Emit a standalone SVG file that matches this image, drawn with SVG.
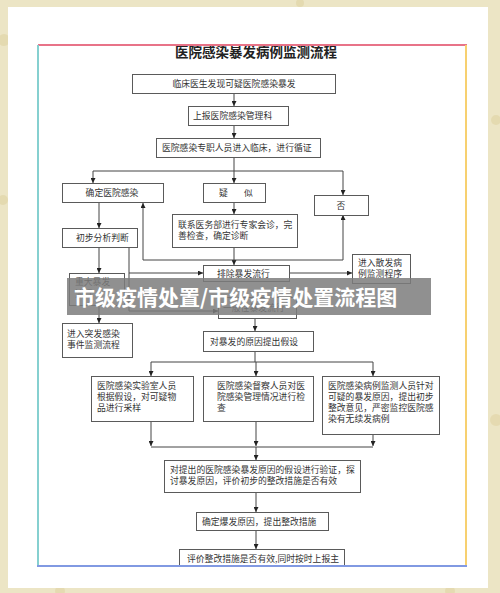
<svg xmlns="http://www.w3.org/2000/svg" width="500" height="593" viewBox="0 0 500 593">
<style>
.box{fill:#fff;stroke:#5a5a5a;stroke-width:1}
.t{font-family:"Noto Sans CJK SC","Noto Sans CJK TC",sans-serif;font-size:8.8px;fill:#333}
.c{text-anchor:middle}
.ln{fill:none;stroke:#444;stroke-width:1}
</style>
<defs>
<marker id="ah" viewBox="0 0 6 6" refX="6" refY="3" markerWidth="5" markerHeight="5" markerUnits="userSpaceOnUse" orient="auto">
<path d="M0,0 L6,3 L0,6 z" fill="#222"/>
</marker>
<clipPath id="frame"><rect x="38" y="45.5" width="429" height="520"/></clipPath>
</defs>
<rect x="0" y="0" width="500" height="593" fill="#ece5c5"/>
<g fill="#e2d6a8" opacity="0.7">
<circle cx="4" cy="40" r="6"/><circle cx="3" cy="200" r="5"/><circle cx="496" cy="120" r="5"/><circle cx="496" cy="420" r="6"/><circle cx="60" cy="591" r="5"/><circle cx="450" cy="591" r="5"/><circle cx="300" cy="3" r="4"/>
</g>
<rect x="8" y="7" width="480" height="581" fill="#fff"/>
<g clip-path="url(#frame)">
<text x="256" y="57" class="t c" style="font-size:13.5px;font-weight:700;fill:#222">医院感染暴发病例监测流程</text>

<g id="connectors">
<line class="ln" x1="234" y1="93" x2="234" y2="106" marker-end="url(#ah)"/>
<line class="ln" x1="234" y1="125" x2="234" y2="138" marker-end="url(#ah)"/>
<line class="ln" x1="234" y1="157" x2="234" y2="171"/>
<line class="ln" x1="93" y1="171" x2="343" y2="171"/>
<line class="ln" x1="93" y1="171" x2="93" y2="183" marker-end="url(#ah)"/>
<line class="ln" x1="234" y1="171" x2="234" y2="183" marker-end="url(#ah)"/>
<line class="ln" x1="343" y1="171" x2="343" y2="195" marker-end="url(#ah)"/>
<line class="ln" x1="234" y1="202" x2="234" y2="214" marker-end="url(#ah)"/>
<line class="ln" x1="234" y1="247" x2="234" y2="265" marker-end="url(#ah)"/>
<line class="ln" x1="143" y1="260" x2="343" y2="260"/>
<line class="ln" x1="143" y1="260" x2="143" y2="203" marker-end="url(#ah)"/>
<line class="ln" x1="343" y1="260" x2="343" y2="215" marker-end="url(#ah)"/>
<line class="ln" x1="99" y1="202" x2="99" y2="228" marker-end="url(#ah)"/>
<line class="ln" x1="99" y1="247" x2="99" y2="273" marker-end="url(#ah)"/>
<polyline class="ln" points="129,247 129,311 218,311" marker-end="url(#ah)"/>
<line class="ln" x1="129" y1="273" x2="203" y2="273" marker-end="url(#ah)"/>
<line class="ln" x1="289" y1="273" x2="352" y2="273" marker-end="url(#ah)"/>
<line class="ln" x1="99" y1="305" x2="99" y2="323" marker-end="url(#ah)"/>
<line class="ln" x1="255" y1="318" x2="255" y2="331" marker-end="url(#ah)"/>
<line class="ln" x1="255" y1="351" x2="255" y2="362"/>
<line class="ln" x1="151" y1="362" x2="373" y2="362"/>
<line class="ln" x1="151" y1="362" x2="151" y2="376" marker-end="url(#ah)"/>
<line class="ln" x1="256" y1="362" x2="256" y2="376" marker-end="url(#ah)"/>
<line class="ln" x1="373" y1="362" x2="373" y2="376" marker-end="url(#ah)"/>
<line class="ln" x1="151" y1="421" x2="151" y2="446" marker-end="url(#ah)"/>
<line class="ln" x1="256" y1="421" x2="256" y2="446" marker-end="url(#ah)"/>
<line class="ln" x1="373" y1="434" x2="373" y2="446" marker-end="url(#ah)"/>
<line class="ln" x1="151" y1="447" x2="373" y2="447"/>
<line class="ln" x1="256" y1="447" x2="256" y2="460" marker-end="url(#ah)"/>
<line class="ln" x1="256" y1="492" x2="256" y2="512" marker-end="url(#ah)"/>
<line class="ln" x1="256" y1="530" x2="256" y2="549" marker-end="url(#ah)"/>
</g>

<g id="n1"><rect class="box" x="132.5" y="74.5" width="203" height="19"/><text class="t c" x="234" y="87">临床医生发现可疑医院感染暴发</text></g>
<g id="n2"><rect class="box" x="188.5" y="106.5" width="100" height="19"/><text class="t" x="193" y="119">上报医院感染管理科</text></g>
<g id="n3"><rect class="box" x="156.5" y="138.5" width="164" height="19"/><text class="t" x="162" y="151">医院感染专职人员进入临床，进行循证</text></g>
<g id="n4"><rect class="box" x="62.5" y="183.5" width="101" height="19"/><text class="t c" x="112" y="196">确定医院感染</text></g>
<g id="n5"><rect class="box" x="203.5" y="183.5" width="62" height="19"/><text class="t" x="219" y="196">疑</text><text class="t" x="244" y="196">似</text></g>
<g id="n6"><rect class="box" x="314.5" y="195.5" width="54" height="20"/><text class="t c" x="341" y="209">否</text></g>
<g id="n7"><rect class="box" x="172.5" y="214.5" width="125" height="33"/><text class="t" x="178" y="228">联系医务部进行专家会诊，完</text><text class="t" x="178" y="239">善检查，确定诊断</text></g>
<g id="n8"><rect class="box" x="62.5" y="228.5" width="75" height="19"/><text class="t" x="76" y="241">初步分析判断</text></g>
<g id="n9"><rect class="box" x="203.5" y="265.5" width="86" height="16"/><text class="t" x="217" y="277">排除暴发流行</text></g>
<g id="n10"><rect class="box" x="352.5" y="254.5" width="58" height="29"/><text class="t" x="358" y="266">进入散发病</text><text class="t" x="358" y="277">例监测程序</text></g>
<g id="n11"><rect class="box" x="69.5" y="273.5" width="55" height="32"/><text class="t" x="75" y="285">重大暴发</text><text class="t" x="75" y="297">流行</text></g>
<g id="n12"><rect class="box" x="218.5" y="297.5" width="78" height="21"/><text class="t" x="223" y="311">一般性暴发流行</text></g>
<g id="n13"><rect class="box" x="62.5" y="323.5" width="70" height="34"/><text class="t" x="67" y="337">进入突发感染</text><text class="t" x="67" y="348">事件监测流程</text></g>
<g id="n14"><rect class="box" x="203.5" y="331.5" width="110" height="20"/><text class="t" x="210" y="345">对暴发的原因提出假设</text></g>
<g id="n15"><rect class="box" x="91.5" y="376.5" width="102" height="45"/><text class="t" x="97" y="389">医院感染实验室人员</text><text class="t" x="97" y="400">根据假设，对可疑物</text><text class="t" x="97" y="411">品进行采样</text></g>
<g id="n16"><rect class="box" x="203.5" y="376.5" width="110" height="45"/><text class="t" x="217" y="389">医院感染督察人员对医</text><text class="t" x="217" y="400">院感染管理情况进行检</text><text class="t" x="217" y="411">查</text></g>
<g id="n17"><rect class="box" x="322.5" y="376.5" width="117" height="58"/><text class="t" x="328" y="389">医院感染病例监测人员针对</text><text class="t" x="328" y="400">可疑的暴发原因，提出初步</text><text class="t" x="328" y="411">整改意见，严密监控医院感</text><text class="t" x="328" y="422">染有无续发病例</text></g>
<g id="n18"><rect class="box" x="164.5" y="460.5" width="196" height="32"/><text class="t" x="170" y="473">对提出的医院感染暴发原因的假设进行验证，探</text><text class="t" x="170" y="484">讨暴发原因，评价初步的整改措施是否有效</text></g>
<g id="n19"><rect class="box" x="196.5" y="512.5" width="132" height="18"/><text class="t" x="202" y="524.5">确定爆发原因，提出整改措施</text></g>
<g id="n20"><rect class="box" x="179.5" y="549.5" width="165" height="30"/><text class="t" x="187" y="562">评价整改措施是否有效,同时按时上报主</text></g>
</g>

<g id="frame-lines" stroke-width="2">
<line x1="38" y1="45" x2="467" y2="45" stroke="#e87388"/>
<line x1="38" y1="45" x2="38" y2="566" stroke="#86d0d0"/>
<line x1="466" y1="45" x2="466" y2="566" stroke="#f7d070"/>
<line x1="37" y1="566" x2="467" y2="566" stroke="#8199e2"/>
</g>

<g id="banner">
<rect x="67" y="278" width="364" height="37" fill="#7c7c7c" fill-opacity="0.85"/>
<text x="74" y="305" style="font-family:'Noto Sans CJK SC',sans-serif;font-size:21px;font-weight:700;fill:#fff">市级疫情处置/市级疫情处置流程图</text>
</g>
</svg>
